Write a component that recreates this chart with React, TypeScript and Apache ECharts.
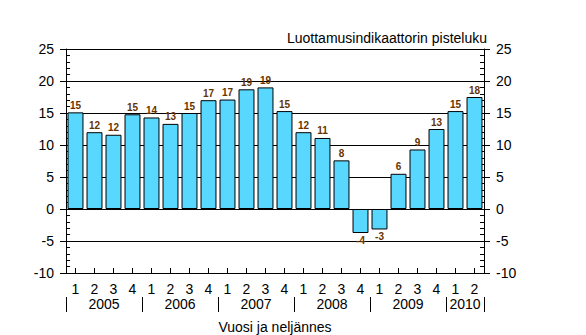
import React, { useEffect, useRef } from "react";
import * as echarts from "echarts";

const quarters = ["1","2","3","4","1","2","3","4","1","2","3","4","1","2","3","4","1","2","3","4","1","2"];
const values = [15.1, 12.0, 11.6, 14.8, 14.3, 13.3, 15.0, 17.0, 17.1, 18.7, 19.0, 15.3, 12.0, 11.1, 7.6, -3.75, -3.2, 5.5, 9.3, 12.5, 15.3, 17.5];
const years = ["2005", "2006", "2007", "2008", "2009", "2010"];
const quartersPerYear = [4, 4, 4, 4, 4, 2];
const yTicks = { min: -10, max: 25, interval: 5 };
const titleText = "Luottamusindikaattorin pisteluku";
const xTitle = "Vuosi ja neljännes";

const FONT = "Liberation Sans, Arial, sans-serif";

export default function App() {
  const ref = useRef<HTMLDivElement>(null);
  useEffect(() => {
    if (!ref.current) return;
    const chart = echarts.init(ref.current, null, { renderer: "svg" });

    const bounds: number[] = [0];
    const centers: number[] = [];
    quartersPerYear.forEach((q) => {
      const start = bounds[bounds.length - 1];
      centers.push(start + q / 2);
      bounds.push(start + q);
    });
    const total = bounds[bounds.length - 1];

    const gridBox = { left: 66, right: 102, top: 49, bottom: 62, containLabel: false, outerBoundsMode: "none" };
    const axisLabelStyle = { fontSize: 14, color: "#000", fontFamily: FONT };

    const yCommon = {
      type: "value",
      min: yTicks.min,
      max: yTicks.max,
      interval: yTicks.interval,
    };

    chart.setOption({
      animation: false,
      grid: [
        { ...gridBox },
        { ...gridBox },
      ],
      xAxis: [
        {
          type: "category",
          gridIndex: 0,
          data: quarters,
          position: "bottom",
          axisLine: { show: true, onZero: false, lineStyle: { color: "#000", width: 1 } },
          axisTick: { show: true, inside: true, alignWithLabel: true, length: 5, lineStyle: { color: "#000" } },
          axisLabel: { ...axisLabelStyle, lineHeight: 13, margin: 9, interval: 0 },
          splitLine: { show: false },
        },
        {
          type: "value",
          gridIndex: 0,
          position: "bottom",
          offset: 24,
          min: 0,
          max: total,
          axisLine: { show: false, onZero: false },
          axisTick: { show: true, customValues: bounds, length: 15, lineStyle: { color: "#000" } },
          axisLabel: {
            ...axisLabelStyle,
            lineHeight: 13,
            show: true,
            customValues: centers,
            margin: 0,
            formatter: (v: number) => {
              const i = centers.findIndex((c) => Math.abs(c - v) < 1e-6);
              return i >= 0 ? years[i] : "";
            },
          },
          splitLine: { show: false },
          name: xTitle,
          nameLocation: "middle",
          nameGap: 23,
          nameMoveOverlap: false,
          nameTextStyle: { ...axisLabelStyle },
        },
        {
          type: "category",
          gridIndex: 1,
          data: quarters,
          show: false,
        },
      ],
      yAxis: [
        {
          ...yCommon,
          gridIndex: 0,
          position: "left",
          axisLine: { show: true, lineStyle: { color: "#000" } },
          axisTick: { show: true, inside: false, length: 6, lineStyle: { color: "#000" } },
          axisLabel: { ...axisLabelStyle, margin: 12 },
          splitLine: { show: true, lineStyle: { color: "#000", width: 1 } },
        },
        {
          ...yCommon,
          gridIndex: 0,
          position: "right",
          axisLine: { show: true, lineStyle: { color: "#000" } },
          axisTick: { show: true, inside: false, length: 6, lineStyle: { color: "#000" } },
          axisLabel: { ...axisLabelStyle, margin: 12 },
          splitLine: { show: false },
          name: titleText,
          nameLocation: "end",
          nameGap: 4,
          nameMoveOverlap: false,
          nameTextStyle: { ...axisLabelStyle, align: "right", verticalAlign: "bottom", padding: [0, -3, 0, 0] },
        },
        {
          ...yCommon,
          gridIndex: 1,
          position: "left",
          axisLine: { show: false },
          axisTick: { show: true, inside: true, length: 4, lineStyle: { color: "#000" } },
          minorTick: { show: true, splitNumber: 5, length: 4, lineStyle: { color: "#000" } },
          axisLabel: { show: false },
          splitLine: { show: false },
        },
        {
          ...yCommon,
          gridIndex: 1,
          position: "right",
          axisLine: { show: false },
          axisTick: { show: true, inside: true, length: 4, lineStyle: { color: "#000" } },
          minorTick: { show: true, splitNumber: 5, length: 4, lineStyle: { color: "#000" } },
          axisLabel: { show: false },
          splitLine: { show: false },
        },
      ],
      series: [
        {
          type: "bar",
          xAxisIndex: 0,
          yAxisIndex: 0,
          barCategoryGap: "16%",
          data: values.map((v) => ({
            value: v,
            label: { position: v < 0 ? "bottom" : "top" },
          })),
          itemStyle: { color: "#58D8FF", borderColor: "#000", borderWidth: 1 },
          label: {
            show: true,
            distance: 2,
            fontSize: 10,
            fontWeight: "bold",
            color: "#663300",
            fontFamily: FONT,
            formatter: (p: any) => String(Math.round(p.value)),
          },
          z: 3,
        },
      ],
    });

    return () => chart.dispose();
  }, []);

  return (
    <div
      ref={ref}
      style={{ position: "absolute", left: 0, top: 0, width: 586, height: 335, overflow: "hidden" }}
    />
  );
}
